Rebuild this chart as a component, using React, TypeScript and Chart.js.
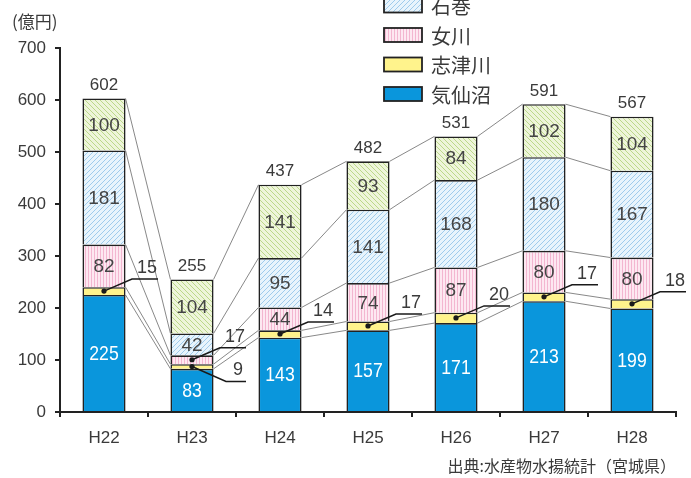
import React, { useEffect, useRef } from 'react';
import { Chart, registerables } from 'chart.js';

Chart.register(...registerables);

const categories = ['H22', 'H23', 'H24', 'H25', 'H26', 'H27', 'H28'];
const seriesNames = ['気仙沼', '志津川', '女川', '石巻', '塩釜'];
const kesennuma = [225, 83, 143, 157, 171, 213, 199];
const shizugawa = [15, 9, 14, 17, 20, 17, 18];
const onagawa = [82, 17, 44, 74, 87, 80, 80];
const ishinomaki = [181, 42, 95, 141, 168, 180, 167];
const shiogama = [100, 104, 141, 93, 84, 102, 104];
const totals = [602, 255, 437, 482, 531, 591, 567];
const yTicks = [0, 100, 200, 300, 400, 500, 600, 700];
const unitLabel = '(億円)';
const sourceLabel = '出典:水産物水揚統計（宮城県）';

const LATIN = "'Liberation Sans', Arial, sans-serif";
const CJK = "'Noto Sans CJK JP', 'Noto Sans', sans-serif";

function makePattern(ctx: CanvasRenderingContext2D, bg: string, line: string, kind: string) {
  const c = document.createElement('canvas');
  const s = kind === '|' ? 3 : 5;
  c.width = s;
  c.height = s;
  const g = c.getContext('2d')!;
  g.fillStyle = bg;
  g.fillRect(0, 0, s, s);
  g.strokeStyle = line;
  g.lineWidth = 1;
  g.beginPath();
  if (kind === '|') {
    g.moveTo(1.5, 0);
    g.lineTo(1.5, s);
  } else if (kind === '/') {
    g.moveTo(-1, s + 1);
    g.lineTo(s + 1, -1);
    g.moveTo(-1, 1);
    g.lineTo(1, -1);
    g.moveTo(s - 1, s + 1);
    g.lineTo(s + 1, s - 1);
  } else {
    g.moveTo(-1, -1);
    g.lineTo(s + 1, s + 1);
    g.moveTo(s - 1, -1);
    g.lineTo(s + 1, 1);
    g.moveTo(-1, s - 1);
    g.lineTo(1, s + 1);
  }
  g.stroke();
  return ctx.createPattern(c, 'repeat') as CanvasPattern;
}

const decorPlugin = {
  id: 'decor',
  beforeDatasetsDraw(chart: any) {
    const ctx = chart.ctx as CanvasRenderingContext2D;
    const n = chart.data.datasets.length;
    ctx.save();
    ctx.strokeStyle = '#7a7a7a';
    ctx.lineWidth = 0.9;
    for (let d = 0; d < n; d++) {
      const meta = chart.getDatasetMeta(d);
      for (let i = 0; i < meta.data.length - 1; i++) {
        const a = meta.data[i];
        const b = meta.data[i + 1];
        ctx.beginPath();
        ctx.moveTo(a.x + a.width / 2, a.y);
        ctx.lineTo(b.x - b.width / 2, b.y);
        ctx.stroke();
      }
    }
    ctx.restore();
  },
  afterDatasetsDraw(chart: any) {
    const ctx = chart.ctx as CanvasRenderingContext2D;
    const datasets = chart.data.datasets;
    const n = datasets.length;
    ctx.save();
    ctx.textAlign = 'center';
    ctx.textBaseline = 'middle';
    const count = categories.length;
    for (let i = 0; i < count; i++) {
      let leaderCount = 0;
      for (let d = 0; d < n; d++) {
        const el = chart.getDatasetMeta(d).data[i];
        const v = datasets[d].data[i];
        const h = Math.abs(el.base - el.y);
        const cy = (el.y + el.base) / 2;
        if (h < 14) {
          let otherAbove = false;
          for (let k = d + 1; k < n; k++) {
            const e2 = chart.getDatasetMeta(k).data[i];
            if (Math.abs(e2.base - e2.y) < 14) otherAbove = true;
          }
          const down = leaderCount === 0 && otherAbove;
          leaderCount++;
          const x0 = el.x;
          const ex = x0 + (down ? 34 : 28);
          const ey = cy + (down ? 15 : -12);
          const fx = x0 + 54;
          ctx.strokeStyle = '#1a1a1a';
          ctx.lineWidth = 1.5;
          ctx.beginPath();
          ctx.moveTo(x0, cy);
          ctx.lineTo(ex, ey);
          ctx.lineTo(fx, ey);
          ctx.stroke();
          ctx.fillStyle = '#1a1a1a';
          ctx.beginPath();
          ctx.arc(x0, cy, 2.6, 0, Math.PI * 2);
          ctx.fill();
          ctx.fillStyle = '#3a3a3a';
          ctx.font = `18px ${LATIN}`;
          ctx.fillText(String(v), (ex + fx) / 2 + 2, ey - 11);
        } else if (d === 0) {
          ctx.save();
          ctx.fillStyle = '#ffffff';
          ctx.font = `21px ${LATIN}`;
          ctx.translate(el.x, cy + 1);
          ctx.scale(0.84, 1);
          ctx.fillText(String(v), 0, 0);
          ctx.restore();
        } else {
          ctx.fillStyle = '#444';
          ctx.font = `19px ${LATIN}`;
          ctx.fillText(String(v), el.x, cy + 1);
        }
      }
      const top = chart.getDatasetMeta(n - 1).data[i];
      ctx.fillStyle = '#3a3a3a';
      ctx.font = `17px ${LATIN}`;
      ctx.fillText(String(totals[i]), top.x, top.y - 13);
    }
    ctx.restore();
  },
  afterDraw(chart: any) {
    const ctx = chart.ctx as CanvasRenderingContext2D;
    const datasets = chart.data.datasets;
    ctx.save();
    ctx.fillStyle = '#3a3a3a';
    ctx.textBaseline = 'middle';
    ctx.textAlign = 'left';
    ctx.font = `17px ${CJK}`;
    ctx.fillText(unitLabel, 12, 22);
    ctx.textAlign = 'right';
    ctx.font = `16px ${CJK}`;
    ctx.fillText(sourceLabel, 676, 466);
    // legend (top rows clipped by the canvas edge as in the original)
    const rowGap = 29.5;
    const firstY = 94;
    ctx.textAlign = 'left';
    ctx.font = `20px ${CJK}`;
    for (let d = 0; d < datasets.length; d++) {
      const cy = firstY - d * rowGap;
      const ds = datasets[d];
      ctx.fillStyle = ds.backgroundColor;
      ctx.fillRect(384, cy - 7, 38, 14);
      ctx.strokeStyle = '#222';
      ctx.lineWidth = 1.8;
      ctx.strokeRect(384, cy - 7, 38, 14);
      ctx.fillStyle = '#3a3a3a';
      ctx.fillText(ds.label, 431, cy + 1);
    }
    ctx.restore();
  },
};

export default function App() {
  const ref = useRef<HTMLCanvasElement | null>(null);
  useEffect(() => {
    document.body.style.margin = '0';
    const canvas = ref.current!;
    const ctx = canvas.getContext('2d')!;
    const blue = '#0a96dc';
    const yellow = '#fff38c';
    const pink = makePattern(ctx, '#fde8f1', '#f3b6d0', '|');
    const lightBlue = makePattern(ctx, '#e8f4fc', '#9fcbec', '/');
    const green = makePattern(ctx, '#eef5da', '#bcd88a', '\\');
    const values = [kesennuma, shizugawa, onagawa, ishinomaki, shiogama];
    const fills: any[] = [blue, yellow, pink, lightBlue, green];
    const chart = new Chart(canvas, {
      type: 'bar',
      data: {
        labels: categories,
        datasets: values.map((arr, k) => ({
          label: seriesNames[k],
          data: arr,
          backgroundColor: fills[k],
          borderColor: '#222',
          borderWidth: 1.6,
          categoryPercentage: 1,
          barPercentage: 0.49,
        })),
      },
      options: {
        animation: false,
        responsive: false,
        maintainAspectRatio: false,
        layout: { padding: { top: 48, right: 15, left: 0, bottom: 0 } },
        plugins: { legend: { display: false }, tooltip: { enabled: false } },
        scales: {
          x: {
            stacked: true,
            offset: true,
            grid: {
              display: true,
              drawOnChartArea: false,
              drawTicks: true,
              tickLength: 5,
              offset: true,
              color: '#222',
              lineWidth: 2,
            },
            border: { display: true, color: '#222', width: 2 },
            ticks: { color: '#3a3a3a', font: { size: 17, family: LATIN }, padding: 11 },
            afterFit: (s: any) => {
              s.height = 66;
            },
          },
          y: {
            stacked: true,
            min: 0,
            max: 700,
            afterBuildTicks: (s: any) => {
              s.ticks = yTicks.map((v) => ({ value: v }));
            },
            grid: {
              display: true,
              drawOnChartArea: false,
              drawTicks: true,
              tickLength: 5,
              color: '#222',
              lineWidth: 2,
            },
            border: { display: true, color: '#222', width: 2 },
            ticks: { color: '#3a3a3a', font: { size: 17, family: LATIN }, padding: 9 },
            afterFit: (s: any) => {
              s.width = 60;
            },
          },
        },
      },
      plugins: [decorPlugin],
    });
    return () => chart.destroy();
  }, []);
  return (
    <div style={{ width: 691, height: 478 }}>
      <canvas ref={ref} width={691} height={478} style={{ display: 'block', width: 691, height: 478 }} />
    </div>
  );
}
